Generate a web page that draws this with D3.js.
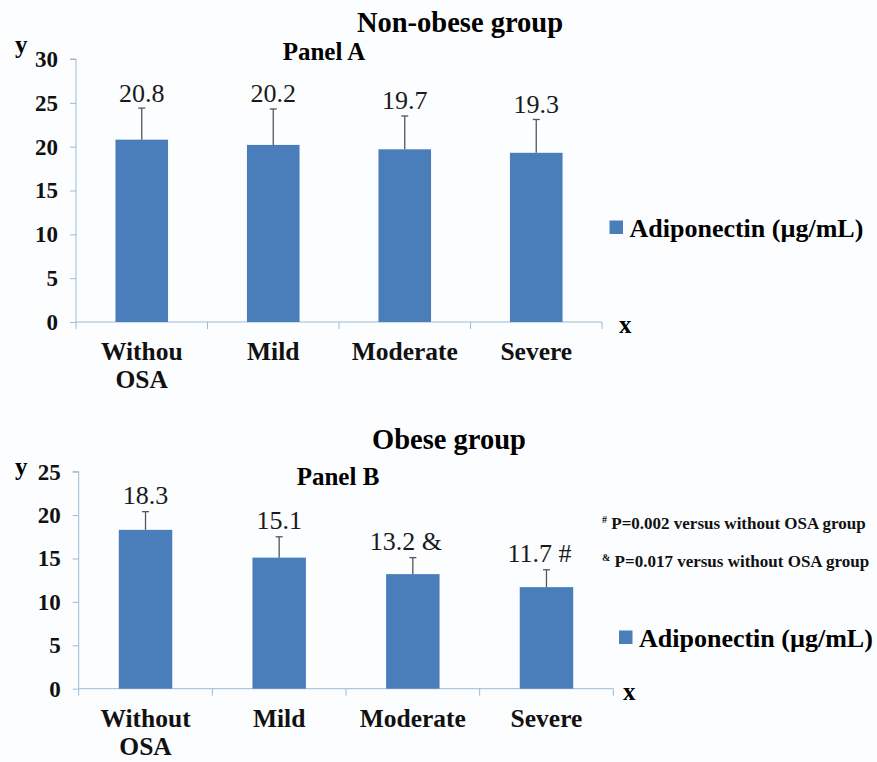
<!DOCTYPE html>
<html>
<head>
<meta charset="utf-8">
<script src="https://cdn.jsdelivr.net/npm/d3@7"></script>
<style>
  body { margin: 0; background: #fcfdfe; }
  svg text { font-family: 'Liberation Serif', 'DejaVu Serif', serif; }
  .axis path, .axis line { stroke: #9dbbd3; }
  .axis text { font-size: 23px; font-weight: bold; fill: #111; }
</style>
</head>
<body>
<div id="chart"></div>
<script>
// data
var categoriesA = [['Withou', 'OSA'], ['Mild'], ['Moderate'], ['Severe']];
var valuesA = [20.8, 20.2, 19.7, 19.3];
var errorsA = [3.6, 4.1, 3.8, 3.8];
var labelsA = ['20.8', '20.2', '19.7', '19.3'];
var ticksA = [0, 5, 10, 15, 20, 25, 30];

var categoriesB = [['Without', 'OSA'], ['Mild'], ['Moderate'], ['Severe']];
var valuesB = [18.3, 15.1, 13.2, 11.7];
var errorsB = [2.1, 2.4, 1.9, 2.0];
var labelsB = ['18.3', '15.1', '13.2 &', '11.7 #'];
var ticksB = [0, 5, 10, 15, 20, 25];

var notes = [['#', ' P=0.002  versus without OSA group'], ['&', ' P=0.017 versus without OSA group']];

var svgWidth = 877;
var svgHeight = 762;
var serif = "'Liberation Serif', 'DejaVu Serif', serif";

var svg = d3.select('#chart')
    .append('svg')
    .attr('width', svgWidth)
    .attr('height', svgHeight)
    .attr('font-family', serif);

// draw one panel
function drawPanel(p) {
    var g = svg.append('g');

    var xBand = d3.scaleBand()
        .domain(d3.range(p.values.length))
        .range([p.left, p.right]);

    var yLinear = d3.scaleLinear()
        .domain([0, d3.max(p.ticks)])
        .range([p.bottom, p.top]);

    // y axis
    g.append('g')
        .classed('axis', true)
        .attr('transform', `translate(${p.left}, 0)`)
        .call(d3.axisLeft(yLinear).tickValues(p.ticks).tickSize(6).tickPadding(12))
        .attr('font-family', serif)
        .call(a => a.select('.domain').attr('d', `M-6,${p.top}H0V${p.bottom}`));

    // x axis, ticks between categories
    var xAxis = g.append('g')
        .classed('axis', true)
        .attr('transform', `translate(0, ${p.bottom})`)
        .call(d3.axisBottom(xBand).tickSize(0).tickFormat(''));
    xAxis.select('.domain').attr('d', `M${p.left},7V0H${p.right}V7`);
    xAxis.selectAll('.boundary')
        .data(d3.range(1, p.values.length))
        .enter()
        .append('line')
        .attr('x1', d => xBand(d))
        .attr('x2', d => xBand(d))
        .attr('y1', 0)
        .attr('y2', 7);

    var barW = xBand.bandwidth() * 0.4;
    var cx = i => xBand(i) + xBand.bandwidth() / 2;

    // bars
    g.selectAll('.bar')
        .data(p.values)
        .enter()
        .append('rect')
        .attr('x', (d, i) => cx(i) - barW / 2)
        .attr('y', d => yLinear(d))
        .attr('width', barW)
        .attr('height', d => p.bottom - yLinear(d))
        .attr('fill', '#4a7ebb');

    // error bars
    var errG = g.selectAll('.err')
        .data(p.values)
        .enter()
        .append('g')
        .attr('stroke', '#555')
        .attr('stroke-width', 1.3);
    errG.append('line')
        .attr('x1', (d, i) => cx(i))
        .attr('x2', (d, i) => cx(i))
        .attr('y1', d => yLinear(d))
        .attr('y2', (d, i) => yLinear(d + p.errors[i]));
    errG.append('line')
        .attr('x1', (d, i) => cx(i) - 3.5)
        .attr('x2', (d, i) => cx(i) + 3.5)
        .attr('y1', (d, i) => yLinear(d + p.errors[i]))
        .attr('y2', (d, i) => yLinear(d + p.errors[i]));

    // value labels
    g.selectAll('.val')
        .data(p.values)
        .enter()
        .append('text')
        .attr('x', (d, i) => cx(i) - (p.labels[i].length > 4 ? 7 : 0))
        .attr('y', (d, i) => yLinear(d + p.errors[i]) - p.labelGap)
        .attr('text-anchor', 'middle')
        .attr('font-size', '26px')
        .attr('fill', '#1a1a1a')
        .text((d, i) => p.labels[i]);

    // category labels
    var cat = g.selectAll('.cat')
        .data(p.categories)
        .enter()
        .append('text')
        .attr('text-anchor', 'middle')
        .attr('font-size', '25.5px')
        .attr('font-weight', 'bold')
        .attr('fill', '#111');
    cat.selectAll('tspan')
        .data((d, i) => d.map(t => ({ t: t, i: i })))
        .enter()
        .append('tspan')
        .attr('x', d => cx(d.i))
        .attr('y', (d, j) => p.bottom + p.catGap + j * 28)
        .text(d => d.t);

    // titles
    g.append('text')
        .attr('x', p.titleX)
        .attr('y', p.titleY)
        .attr('text-anchor', 'middle')
        .attr('font-size', '28.5px')
        .attr('font-weight', 'bold')
        .text(p.title);
    g.append('text')
        .attr('x', p.panelX)
        .attr('y', p.panelY)
        .attr('text-anchor', 'middle')
        .attr('font-size', '25px')
        .attr('font-weight', 'bold')
        .text(p.panel);

    // axis letters
    g.append('text')
        .attr('x', 15)
        .attr('y', p.yLetterY)
        .attr('font-size', '25px')
        .attr('font-weight', 'bold')
        .text('y');
    g.append('text')
        .attr('x', p.xLetterX)
        .attr('y', p.bottom + 11)
        .attr('font-size', '25px')
        .attr('font-weight', 'bold')
        .text('x');

    // legend
    g.append('rect')
        .attr('x', p.legendX)
        .attr('y', p.legendY - 16.5)
        .attr('width', 13.5)
        .attr('height', 13.5)
        .attr('fill', '#4a7ebb');
    g.append('text')
        .attr('x', p.legendX + 20)
        .attr('y', p.legendY)
        .attr('font-size', '26px')
        .attr('font-weight', 'bold')
        .text('Adiponectin (µg/mL)');

    return g;
}

drawPanel({
    values: valuesA, errors: errorsA, labels: labelsA, categories: categoriesA, ticks: ticksA,
    left: 76, right: 602, top: 59, bottom: 322, labelGap: 6.5, catGap: 38,
    title: 'Non-obese group', titleX: 460, titleY: 32,
    panel: 'Panel A', panelX: 324, panelY: 60,
    yLetterY: 53, xLetterX: 619,
    legendX: 609.5, legendY: 237
});

var gB = drawPanel({
    values: valuesB, errors: errorsB, labels: labelsB, categories: categoriesB, ticks: ticksB,
    left: 78.7, right: 613.3, top: 471.7, bottom: 688.7, labelGap: 8, catGap: 38,
    title: 'Obese group', titleX: 449, titleY: 449,
    panel: 'Panel B', panelX: 338, panelY: 485,
    yLetterY: 475, xLetterX: 623,
    legendX: 619, legendY: 647
});

// significance notes
gB.selectAll('.note')
    .data(notes)
    .enter()
    .append('text')
    .attr('x', 602)
    .attr('y', (d, i) => 529 + i * 38)
    .attr('font-size', '17px')
    .attr('font-weight', 'bold')
    .attr('fill', '#111')
    .each(function(d) {
        var t = d3.select(this);
        t.append('tspan').attr('font-size', '10px').attr('dy', -6).text(d[0]);
        t.append('tspan').attr('dy', 6).text(d[1]);
    });
</script>
</body>
</html>
